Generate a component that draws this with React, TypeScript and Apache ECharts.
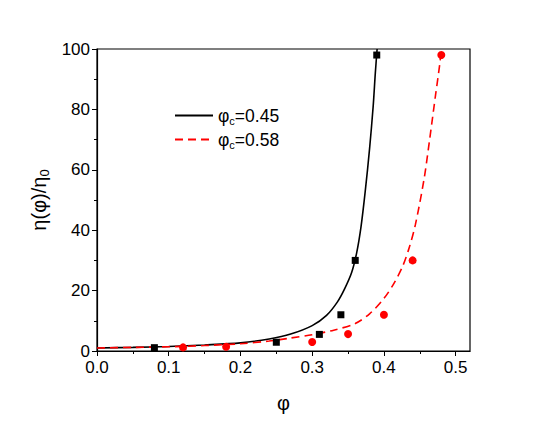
import React, { useEffect, useRef } from "react";
import * as echarts from "echarts";

// Fitted curves: [phi, eta/eta0]
const curve045: [number, number][] = [
  [0, 1.0], [0.05, 1.2], [0.1, 1.5], [0.15, 2.0], [0.2, 2.7], [0.24, 4.0],
  [0.27, 5.6], [0.3, 8.4], [0.32, 11.8], [0.335, 16.2], [0.345, 20.5],
  [0.355, 26.0], [0.362, 32.5], [0.368, 41], [0.374, 53], [0.38, 67],
  [0.385, 81], [0.388, 92], [0.3905, 100],
];
const curve058: [number, number][] = [
  [0, 1.0], [0.05, 1.2], [0.1, 1.4], [0.15, 1.8], [0.2, 2.4], [0.24, 3.3],
  [0.27, 4.3], [0.3, 5.4], [0.33, 6.9], [0.36, 9.1], [0.38, 12.3],
  [0.4, 17.4], [0.414, 22.4], [0.426, 28], [0.435, 34], [0.444, 42],
  [0.456, 57], [0.464, 70.5], [0.472, 84.8], [0.478, 95.3], [0.48, 100],
];
// Measured points
const squares: [number, number][] = [
  [0.08, 1.1], [0.25, 2.9], [0.31, 5.5], [0.34, 12], [0.36, 30], [0.39, 98],
];
const circles: [number, number][] = [
  [0.12, 1.2], [0.18, 1.4], [0.3, 3.0], [0.35, 5.6], [0.4, 12], [0.44, 30], [0.48, 98],
];
const xMajorTicks = [0, 0.1, 0.2, 0.3, 0.4, 0.5];
const xMinorTicks = [0.05, 0.15, 0.25, 0.35, 0.45];
const legendNames = ["φc=0.45", "φc=0.58"];

const FONT = "'Liberation Sans', Arial, sans-serif";
const CLEAR = "rgba(0,0,0,0)";

export default function App() {
  const ref = useRef<HTMLDivElement>(null);
  useEffect(() => {
    if (!ref.current) return;
    const chart = echarts.init(ref.current, null, { renderer: "svg" });
    const grid = { left: 97, right: 75, top: 49, bottom: 70 };
    chart.setOption({
      animation: false,
      textStyle: { fontFamily: FONT, color: "#000" },
      grid: { ...grid, show: true, borderColor: "#000", borderWidth: 1.2, backgroundColor: "transparent" },
      legend: {
        orient: "vertical",
        left: 169,
        top: 100,
        itemWidth: 38,
        itemHeight: 12,
        itemGap: 3,
        data: legendNames,
        itemStyle: { color: CLEAR, borderColor: CLEAR, borderWidth: 0 },
        formatter: (name: string) => `{a|φ}{s|c}{a|${name.slice(2)}}`,
        textStyle: {
          rich: {
            a: { fontSize: 17.5, fontFamily: FONT, color: "#000", lineHeight: 17 },
            s: { fontSize: 11, fontFamily: FONT, color: "#000", lineHeight: 11, padding: [10, 0, 0, 0] },
          },
        },
      },
      xAxis: [
        {
          type: "value",
          min: 0,
          max: 0.52,
          interval: 0.1,
          name: "φ",
          nameLocation: "middle",
          nameGap: 42,
          nameTextStyle: { fontSize: 20, fontFamily: FONT, color: "#000" },
          axisLine: { show: true, onZero: false, lineStyle: { color: "#000", width: 1.2 } },
          axisTick: { show: true, length: 5, customValues: xMajorTicks, lineStyle: { color: "#000" } },
          axisLabel: {
            customValues: xMajorTicks,
            margin: 8,
            fontSize: 17,
            fontFamily: FONT,
            color: "#000",
            formatter: (v: number) => v.toFixed(1),
          },
          splitLine: { show: false },
        },
        {
          type: "value",
          min: 0,
          max: 0.52,
          position: "bottom",
          axisLine: { show: false },
          axisTick: { show: true, length: 3, customValues: xMinorTicks, lineStyle: { color: "#000" } },
          axisLabel: { show: false },
          splitLine: { show: false },
        },
      ],
      yAxis: {
        type: "value",
        min: 0,
        max: 100,
        interval: 20,
        name: "{a|η(φ)/η}{s|0}",
        nameLocation: "middle",
        nameGap: 47,
        nameTextStyle: {
          rich: {
            a: { fontSize: 20, fontFamily: FONT, color: "#000", lineHeight: 20 },
            s: { fontSize: 13, fontFamily: FONT, color: "#000", lineHeight: 13, padding: [11, 0, 0, 0] },
          },
        },
        axisLine: { show: true, lineStyle: { color: "#000", width: 1.2 } },
        axisTick: { show: true, length: 5, lineStyle: { color: "#000" } },
        minorTick: { show: true, splitNumber: 2, length: 3, lineStyle: { color: "#000" } },
        axisLabel: { margin: 7, fontSize: 17, fontFamily: FONT, color: "#000" },
        splitLine: { show: false },
        minorSplitLine: { show: false },
      },
      series: [
        {
          name: legendNames[0],
          type: "line",
          data: curve045,
          symbol: "none",
          smooth: 0.3,
          lineStyle: { color: "#000", width: 1.6, type: "solid" },
          itemStyle: { color: "#000" },
          z: 2,
        },
        {
          name: legendNames[1],
          type: "line",
          data: curve058,
          symbol: "none",
          smooth: 0.3,
          lineStyle: { color: "#ff0000", width: 1.6, type: [8, 5] },
          itemStyle: { color: "#ff0000" },
          z: 3,
        },
        {
          name: "squares",
          type: "scatter",
          data: squares,
          symbol: "rect",
          symbolSize: 7,
          itemStyle: { color: "#000", opacity: 1 },
          z: 4,
        },
        {
          name: "circles",
          type: "scatter",
          data: circles,
          symbol: "circle",
          symbolSize: 8,
          itemStyle: { color: "#ff0000", opacity: 1 },
          z: 5,
        },
      ],
    });
    return () => chart.dispose();
  }, []);
  return (
    <div
      ref={ref}
      style={{ position: "fixed", left: 0, top: 0, width: 545, height: 421, background: "#fff" }}
    />
  );
}
